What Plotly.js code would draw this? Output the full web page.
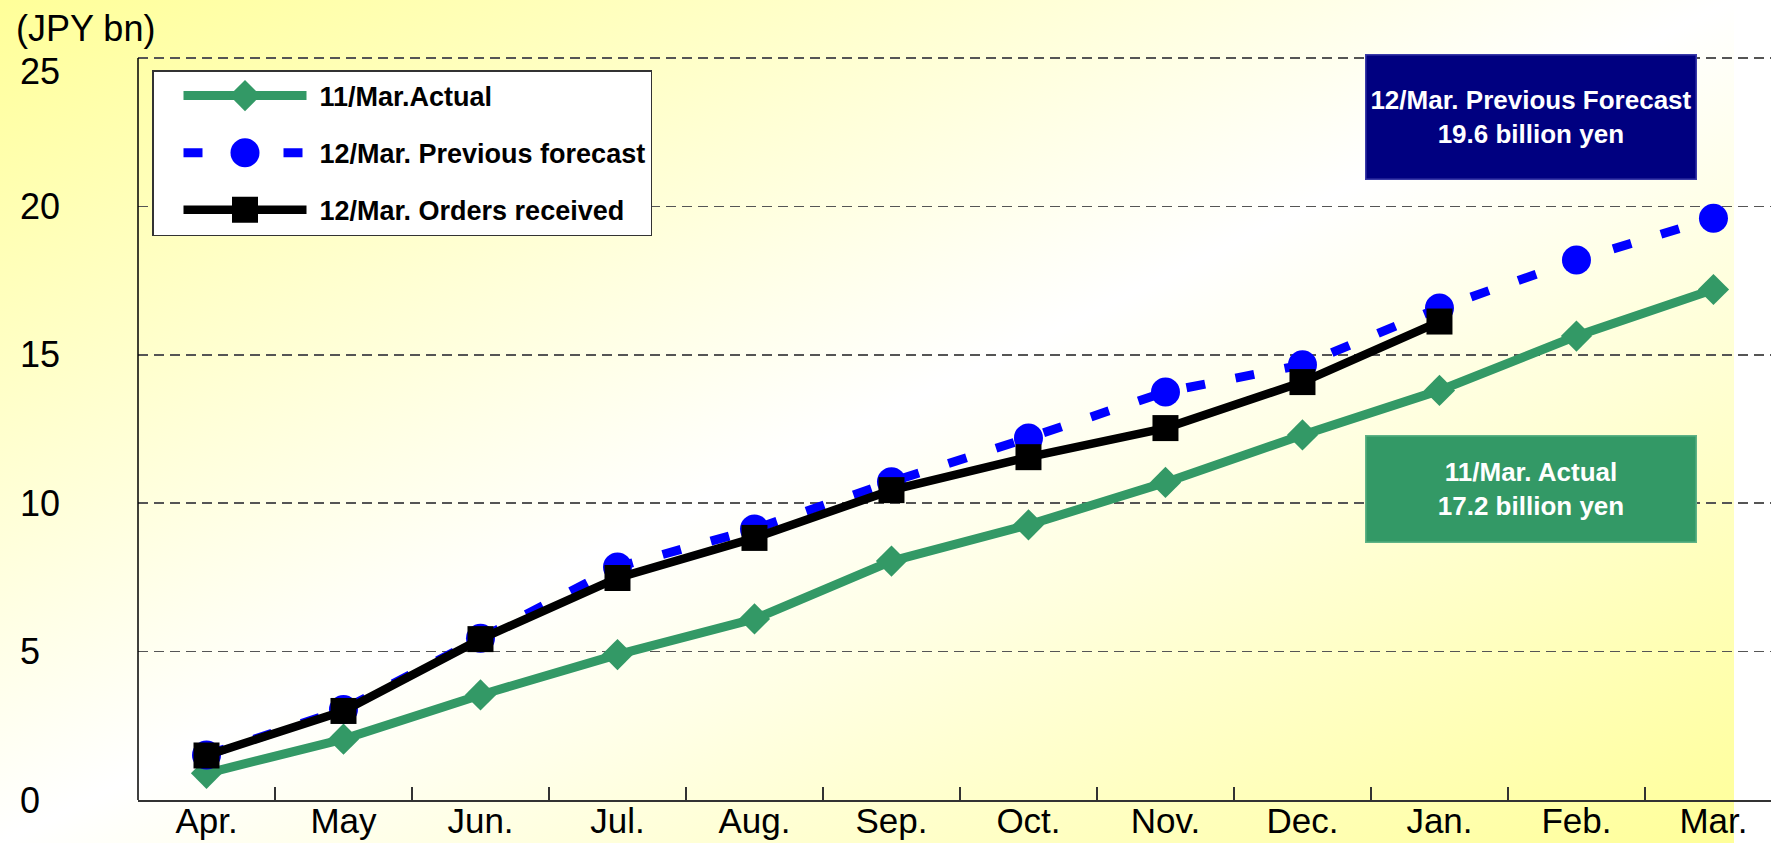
<!DOCTYPE html>
<html>
<head>
<meta charset="utf-8">
<script src="https://cdn.plot.ly/plotly-3.0.1.min.js"></script>
<style>
  html, body { margin: 0; padding: 0; background: #ffffff; }
  #wrap { position: relative; width: 1771px; height: 843px; overflow: hidden; }
  #bg {
    position: absolute; left: 0; top: 0; width: 1734px; height: 843px;
    background: linear-gradient(to bottom right, #ffff99 0%, #ffffff 50%, #ffff99 100%);
  }
  #chart { position: absolute; left: 0; top: 0; width: 1771px; height: 843px; }
</style>
</head>
<body>
<div id="wrap"><div id="bg"></div><div id="chart"></div></div>
<script>
// Cumulative orders by month (JPY bn)
const months = ['Apr.', 'May', 'Jun.', 'Jul.', 'Aug.', 'Sep.', 'Oct.', 'Nov.', 'Dec.', 'Jan.', 'Feb.', 'Mar.'];
const actualFY11 = [0.9, 2.05, 3.54, 4.9, 6.1, 8.05, 9.27, 10.7, 12.3, 13.8, 15.63, 17.2];
const forecastFY12 = [1.52, 3.05, 5.45, 7.85, 9.13, 10.72, 12.2, 13.75, 14.66, 16.58, 18.19, 19.6];
const ordersFY12 = [1.5, 3.0, 5.42, 7.48, 8.83, 10.44, 11.55, 12.53, 14.08, 16.12];
const seriesNames = ['11/Mar.Actual', '12/Mar. Previous forecast', '12/Mar. Orders received'];
const yTickVals = [0, 5, 10, 15, 20, 25];
const unitLabel = '(JPY bn)';

const FONT = 'Arial, "Liberation Sans", Helvetica, sans-serif';
const GREEN = '#339966', BLUE = '#0000ff', NAVY = '#000080';

// page geometry helpers (pixel -> paper fraction)
const W = 1771, H = 843, ML = 19, MR = 0, MT = 55, MB = 43;
const plotW = W - ML - MR, plotH = H - MT - MB;
const px = v => (v - ML) / plotW;
const py = v => (H - MB - v) / plotH;

const traces = [
  {
    x: months, y: actualFY11, name: seriesNames[0], legendgroup: 'g1',
    type: 'scatter', mode: 'lines+markers',
    line: { color: GREEN, width: 9 },
    marker: { symbol: 'diamond', size: 24, color: GREEN, line: { width: 0 } }
  },
  {
    x: months, y: forecastFY12, name: seriesNames[1], legendgroup: 'g2',
    type: 'scatter', mode: 'lines+markers',
    line: { color: BLUE, width: 9, dash: '19px,31px' },
    marker: { symbol: 'circle', size: 29, color: BLUE, line: { width: 0 } }
  },
  {
    x: months.slice(0, ordersFY12.length), y: ordersFY12, name: seriesNames[2], legendgroup: 'g3',
    type: 'scatter', mode: 'lines+markers',
    line: { color: '#000000', width: 8.5 },
    marker: { symbol: 'square', size: 26, color: '#000000', line: { width: 0 } }
  }
];

const lastForecast = forecastFY12[forecastFY12.length - 1].toFixed(1);
const lastActual = actualFY11[actualFY11.length - 1].toFixed(1);

const layout = {
  width: W, height: H,
  margin: { l: ML, r: MR, t: MT, b: MB, pad: 0 },
  paper_bgcolor: 'rgba(0,0,0,0)',
  plot_bgcolor: 'rgba(0,0,0,0)',
  font: { family: FONT, color: '#000' },
  showlegend: true,
  xaxis: {
    type: 'category', domain: [px(138), 1], range: [-0.5, 11.42],
    showline: true, linecolor: '#333', linewidth: 1.5,
    ticks: 'inside', tickson: 'boundaries', ticklen: 13, tickcolor: '#333', tickwidth: 1.2,
    showgrid: false, zeroline: false, ticklabelstandoff: -11,
    tickfont: { family: FONT, size: 35, color: '#000' }
  },
  // value axis: labels sit at the page's left edge, dashed grid spans the plot
  yaxis: {
    range: [0, 25.1], tickvals: yTickVals,
    anchor: 'free', position: 0, side: 'right',
    showgrid: true, gridcolor: '#555', gridwidth: 1.5, griddash: '10px,6px',
    showline: false, ticks: '', zeroline: false,
    tickfont: { family: FONT, size: 36, color: '#000' }
  },
  shapes: [
    { type: 'line', xref: 'paper', yref: 'y', x0: px(138), x1: px(138), y0: 0, y1: 25,
      line: { color: '#000', width: 1.5 }, layer: 'above' }
  ],
  legend: {
    x: px(152), y: py(70), xanchor: 'left', yanchor: 'top',
    bgcolor: '#ffffff', bordercolor: '#333', borderwidth: 1.5,
    font: { family: FONT, size: 27, weight: 'bold', color: '#000' },
    itemwidth: 156, tracegroupgap: 19, traceorder: 'grouped'
  },
  annotations: [
    {
      xref: 'paper', yref: 'paper', x: px(14), y: py(29), xanchor: 'left', yanchor: 'middle',
      text: unitLabel, showarrow: false,
      font: { family: FONT, size: 36, color: '#000' }
    },
    {
      xref: 'paper', yref: 'paper', x: px(1531), y: py(117), xanchor: 'center', yanchor: 'middle',
      text: '12/Mar. Previous Forecast<br>' + lastForecast + ' billion yen',
      showarrow: false, align: 'center',
      width: 329, height: 123, borderpad: 0, borderwidth: 1.5,
      bgcolor: NAVY, bordercolor: '#3a3aa8',
      font: { family: FONT, size: 26, weight: 'bold', color: '#ffffff' }
    },
    {
      xref: 'paper', yref: 'paper', x: px(1531), y: py(489), xanchor: 'center', yanchor: 'middle',
      text: '11/Mar. Actual<br>' + lastActual + ' billion yen',
      showarrow: false, align: 'center',
      width: 329, height: 105, borderpad: 0, borderwidth: 1.5,
      bgcolor: GREEN, bordercolor: '#5fb386',
      font: { family: FONT, size: 26, weight: 'bold', color: '#ffffff' }
    }
  ]
};

// Longer legend samples: stretch the key line and use the full-size plot markers
function widenLegendKeys(gd) {
  const x0 = 30, len = 123;
  const plotted = gd.querySelectorAll('.scatterlayer .trace');
  const items = gd.querySelectorAll('.legend .traces');
  items.forEach((item, i) => {
    const src = plotted[i];
    if (!src) return;
    const keyLine = item.querySelector('path.js-line');
    const srcLine = src.querySelector('path.js-line');
    if (keyLine) {
      keyLine.setAttribute('d', 'M' + x0 + ',0h' + len);
      if (srcLine) {
        keyLine.style.strokeWidth = srcLine.style.strokeWidth;
        keyLine.style.strokeDasharray = srcLine.style.strokeDasharray;
      }
    }
    const keyPt = item.querySelector('.legendpoints path.scatterpts');
    const srcPt = src.querySelector('.points path.point');
    if (keyPt && srcPt) {
      keyPt.setAttribute('d', srcPt.getAttribute('d'));
      keyPt.setAttribute('transform', 'translate(' + (x0 + len / 2) + ',0)');
    }
  });
  return gd;
}

// The top value label sits just under its gridline, clear of the unit caption
function lowerTopValueLabel(gd) {
  const labels = gd.querySelectorAll('.ytick text');
  const top = labels[labels.length - 1];
  if (top) {
    const t = top.getAttribute('transform') || '';
    top.setAttribute('transform', t + ' translate(0,13)');
  }
  return gd;
}

Plotly.newPlot('chart', traces, layout, { staticPlot: true, displayModeBar: false })
  .then(widenLegendKeys)
  .then(lowerTopValueLabel);
</script>
</body>
</html>
